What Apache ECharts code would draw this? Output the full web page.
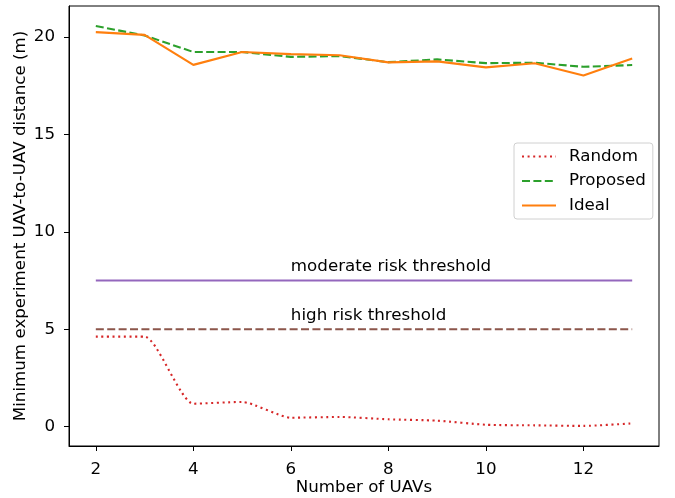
<!DOCTYPE html>
<html>
<head>
<meta charset="utf-8">
<script src="https://cdn.jsdelivr.net/npm/echarts@6/dist/echarts.min.js"></script>
<style>
  html, body { margin: 0; padding: 0; background: #fff; }
  #chart { width: 675px; height: 498px; }
</style>
</head>
<body>
<div id="chart"></div>
<script>
// Number of UAVs in each experiment
const uavCounts = [2, 3, 4, 5, 6, 7, 8, 9, 10, 11, 12, 13];

// Minimum UAV-to-UAV distance (m) per method
const randomDist   = [4.62, 4.62, 1.18, 1.27, 0.46, 0.50, 0.38, 0.31, 0.10, 0.07, 0.04, 0.17];
const proposedDist = [20.55, 20.07, 19.22, 19.22, 18.97, 19.01, 18.70, 18.84, 18.65, 18.67, 18.46, 18.55];
const idealDist    = [20.24, 20.10, 18.56, 19.22, 19.11, 19.05, 18.69, 18.74, 18.43, 18.64, 18.02, 18.89];

// Risk thresholds (m)
const moderateRisk = 7.5;
const highRisk = 5;

// Threshold captions: [x, y, text]
const captions = [
  [6, 7.75, 'moderate risk threshold'],
  [6, 5.25, 'high risk threshold']
];

const xTicks = [2, 4, 6, 8, 10, 12];
const yTicks = [0, 5, 10, 15, 20];

const pairs = ys => uavCounts.map((x, i) => [x, ys[i]]);
const flat = v => [[uavCounts[0], v], [uavCounts[uavCounts.length - 1], v]];

const FONT = 'DejaVu Sans';
const FS = 16.7;

const chart = echarts.init(document.getElementById('chart'), null, { renderer: 'canvas' });

const axisCommon = {
  axisLine: { show: true, onZero: false, lineStyle: { color: '#000', width: 1 } },
  axisTick: { show: true, inside: false, length: 5, lineStyle: { color: '#000', width: 1 } },
  splitLine: { show: false },
  nameMoveOverlap: false,
  axisLabel: { color: '#000', fontFamily: FONT, fontSize: FS },
  nameTextStyle: { color: '#000', fontFamily: FONT, fontSize: FS }
};

chart.setOption({
  animation: false,
  backgroundColor: '#fff',
  grid: {
    left: 69, right: 16, top: 6, bottom: 52,
    outerBoundsMode: 'none',
    containLabel: false,
    show: true, borderColor: '#000', borderWidth: 1
  },
  xAxis: Object.assign({}, axisCommon, {
    type: 'value',
    min: 1.45, max: 13.55,
    name: 'Number of UAVs',
    nameLocation: 'middle',
    nameGap: 33,
    axisTick: Object.assign({}, axisCommon.axisTick, { customValues: xTicks }),
    axisLabel: Object.assign({}, axisCommon.axisLabel, { customValues: xTicks, margin: 15 })
  }),
  yAxis: Object.assign({}, axisCommon, {
    type: 'value',
    min: -0.99, max: 21.58,
    name: 'Minimum experiment UAV-to-UAV distance (m)',
    nameLocation: 'middle',
    nameGap: 40,
    axisTick: Object.assign({}, axisCommon.axisTick, { customValues: yTicks }),
    axisLabel: Object.assign({}, axisCommon.axisLabel, { customValues: yTicks, margin: 14 })
  }),
  legend: {
    data: ['Random', 'Proposed', 'Ideal'],
    orient: 'vertical',
    left: 514, top: 143,
    padding: [5, 7, 5, 7],
    itemWidth: 34, itemHeight: 14, itemGap: 7.5,
    backgroundColor: '#fff',
    borderColor: '#d0d0d0', borderWidth: 1, borderRadius: 3,
    // hide the marker; keep only the line sample
    itemStyle: { opacity: 0 },
    textStyle: { color: '#000', fontFamily: FONT, fontSize: FS, padding: [0, 0, 0, 8] }
  },
  series: [
    {
      name: 'Random', type: 'line', data: pairs(randomDist),
      showSymbol: false, symbol: 'none', smooth: 0.2,
      lineStyle: { color: '#d62728', width: 2.1, type: [2, 3.6] },
      itemStyle: { color: '#d62728' }
    },
    {
      name: 'Proposed', type: 'line', data: pairs(proposedDist),
      showSymbol: false, symbol: 'none',
      lineStyle: { color: '#2ca02c', width: 2.1, type: [8, 3.4] },
      itemStyle: { color: '#2ca02c' }
    },
    {
      name: 'Ideal', type: 'line', data: pairs(idealDist),
      showSymbol: false, symbol: 'none',
      lineStyle: { color: '#ff7f0e', width: 2.1, type: 'solid' },
      itemStyle: { color: '#ff7f0e' }
    },
    {
      name: 'moderate', type: 'line', data: flat(moderateRisk),
      showSymbol: false, symbol: 'none',
      lineStyle: { color: '#9467bd', width: 2.1, type: 'solid' }
    },
    {
      name: 'high', type: 'line', data: flat(highRisk),
      showSymbol: false, symbol: 'none',
      lineStyle: { color: '#8c564b', width: 2.1, type: [8, 3.4] }
    },
    {
      name: 'captions', type: 'scatter', data: captions,
      symbolSize: 0, silent: true,
      itemStyle: { opacity: 1 },
      label: {
        show: true, position: 'right', distance: 0,
        formatter: p => p.data[2],
        color: '#000', opacity: 1, fontFamily: FONT, fontSize: FS,
        textBorderWidth: 0,
        align: 'left', verticalAlign: 'bottom'
      }
    }
  ]
});
</script>
</body>
</html>
